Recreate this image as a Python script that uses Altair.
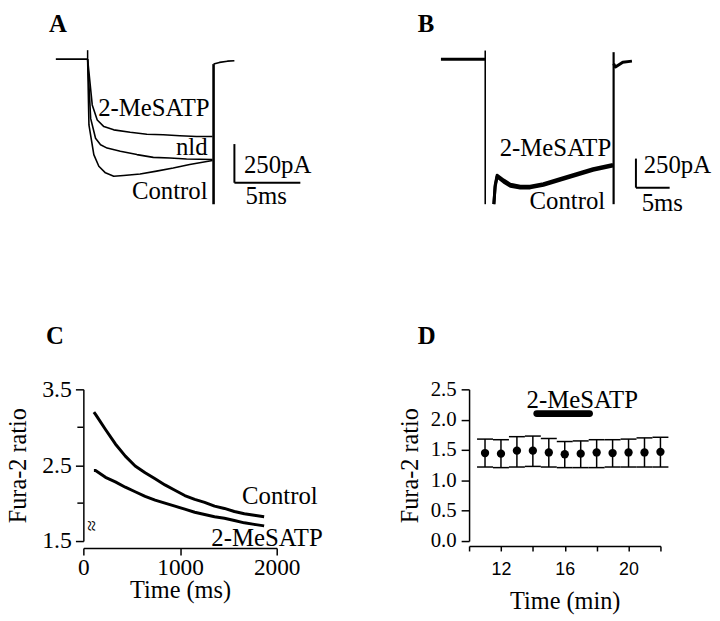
import altair as alt
import pandas as pd

SERIF = "Liberation Serif"
SANS = "Liberation Sans"
LBL = 25  # annotation font size

# ---------------- Panel A : currents (time in ms, current in pA) ----------------
a_base_t = [-2.41, 0.0]
a_base_i = [0, 0]
a_mes_t = [0.0, 0.35, 0.73, 1.23, 1.98, 3.23, 4.49, 5.74, 6.99, 8.25, 9.47]
a_mes_i = [0, -296, -393, -436, -457, -473, -485, -489, -495, -500, -500]
a_nld_t = [0.0, 0.23, 0.60, 0.98, 1.48, 2.48, 3.74, 4.98, 6.24, 7.50, 9.47]
a_nld_i = [0, -383, -511, -553, -575, -596, -617, -635, -639, -645, -649]
a_ctl_t = [0.0, 0.10, 0.47, 0.85, 1.35, 1.98, 2.73, 3.98, 5.23, 6.49, 7.74, 9.47]
a_ctl_i = [0, -425, -617, -692, -735, -757, -752, -742, -724, -704, -681, -655]
a_tail_t = [9.55, 10.0, 10.6, 11.13]
a_tail_i = [-32, -21, -13, -10]
a_step_on = [0.0, 0, 58]        # time, from, to
a_step_off = [9.55, -938, -32]
a_bar_t = [11.13, 16.13]        # 5 ms
a_bar_i = [-549, -799]          # 250 pA
a_labels = ["2-MeSATP", "nld", "Control"]
a_label_t = [9.25, 9.1, 9.1]
a_label_i = [-365, -622, -904]

# ---------------- Panel B ----------------
b_base_t = [-6.57, 0.0]
b_base_i = [0, 0]
b_trace_t = [1.28, 1.47, 1.76, 2.75, 3.72, 5.19, 6.66, 8.63, 11.07, 13.53, 15.99, 18.93]
b_mes_i = [-1247, -1085, -998, -1040, -1075, -1092, -1093, -1070, -1027, -984, -942, -905]
b_ctl_i = [-1247, -1097, -1012, -1058, -1092, -1108, -1107, -1084, -1041, -998, -956, -919]
b_tail_t = [19.04, 19.31, 20.4, 21.76]
b_tail_i = [-40, -68, -26, -17]
b_step_on = [0.0, 74, -1247]
b_step_off = [19.04, 60, -1247]
b_bar_t = [22.35, 27.35]
b_bar_i = [-855, -1105]
b_labels = ["2-MeSATP", "Control"]
b_label_t = [18.68, 17.8]
b_label_i = [-835, -1290]

# ---------------- Panel C : Fura-2 ratio vs time (ms) ----------------
c_time = [109, 126, 229, 331, 434, 536, 639, 742, 844, 947, 1049, 1152, 1254, 1357, 1459, 1562, 1665, 1767, 1870]
c_control = [3.20, 3.17, 2.97, 2.78, 2.62, 2.49, 2.40, 2.32, 2.24, 2.17, 2.10, 2.05, 2.01, 1.96, 1.93, 1.89, 1.86, 1.84, 1.82]
c_mesatp = [2.43, 2.43, 2.34, 2.28, 2.21, 2.15, 2.09, 2.04, 2.00, 1.96, 1.92, 1.88, 1.85, 1.82, 1.80, 1.77, 1.74, 1.72, 1.70]
c_xticks = [0, 1000, 2000]
c_yticks = [1.5, 2.5, 3.5]
c_minor = [2.0, 3.0]

# ---------------- Panel D : Fura-2 ratio vs time (min) ----------------
d_time = [11, 12, 13, 14, 15, 16, 17, 18, 19, 20, 21, 22]
d_mean = [1.45, 1.44, 1.49, 1.49, 1.46, 1.43, 1.44, 1.46, 1.45, 1.46, 1.46, 1.47]
d_upper = [1.68, 1.67, 1.72, 1.73, 1.69, 1.64, 1.65, 1.67, 1.67, 1.68, 1.70, 1.71]
d_lower = [1.22, 1.21, 1.22, 1.23, 1.22, 1.21, 1.21, 1.21, 1.22, 1.22, 1.22, 1.22]
d_xticks = [10, 12, 14, 16, 18, 20, 22]
d_yticks = [0.0, 0.5, 1.0, 1.5, 2.0, 2.5]
d_drug = [14.25, 17.55, 2.10]


def lines_df(series):
    rows = []
    for name, (ts, vs) in series.items():
        for k, (t, v) in enumerate(zip(ts, vs)):
            rows.append({"series": name, "x": t, "y": v, "order": k})
    return pd.DataFrame(rows)


def rules_df(rows):
    return pd.DataFrame(rows, columns=["x", "y", "x2", "y2", "w"])


def text_layer(df, X, Y, align, size=LBL, weight="normal", font=SERIF, baseline="alphabetic", angle=0):
    return alt.Chart(df).mark_text(align=align, baseline=baseline, font=font, fontSize=size,
                                   fontWeight=weight, color="black", angle=angle).encode(
        x=X, y=Y, text="text:N")


def line_layer(df, X, Y, width):
    return alt.Chart(df).mark_line(color="black", strokeWidth=width, strokeJoin="round").encode(
        x=X, y=Y, detail="series:N", order="order:Q")


def rule_layer(df, X, Y, cap="butt"):
    return alt.Chart(df).mark_rule(color="black", strokeCap=cap).encode(
        x=X, y=Y, x2="x2:Q", y2="y2:Q", strokeWidth=alt.StrokeWidth("w:Q", scale=None))


# ---------- A ----------
xA = alt.X("x:Q", scale=alt.Scale(domain=[-0.3233, 14.338], nice=False, zero=False), axis=None)
yA = alt.Y("y:Q", scale=alt.Scale(domain=[-1108.97, 314.10], nice=False, zero=False), axis=None)
dfA_lines = lines_df({"base": (a_base_t, a_base_i), "mes": (a_mes_t, a_mes_i), "nld": (a_nld_t, a_nld_i),
                      "ctl": (a_ctl_t, a_ctl_i), "tail": (a_tail_t, a_tail_i)})
dfA_rules = rules_df([
    [a_step_on[0], a_step_on[1], a_step_on[0], a_step_on[2], 1.5],
    [a_step_off[0], a_step_off[1], a_step_off[0], a_step_off[2], 2.6],
    [a_bar_t[0], a_bar_i[0], a_bar_t[0], a_bar_i[1], 2],
    [a_bar_t[0], a_bar_i[1], a_bar_t[1], a_bar_i[1], 2],
])
dfA_right = pd.DataFrame({"x": a_label_t, "y": a_label_i, "text": a_labels})
dfA_left = pd.DataFrame({"x": [a_bar_t[0] + 0.72, a_bar_t[0] + 0.85], "y": [-735, -938], "text": ["250pA", "5ms"]})
dfA_letter = pd.DataFrame({"x": [-2.93], "y": [173], "text": ["A"]})
panelA = alt.layer(
    line_layer(dfA_lines, xA, yA, 1.6),
    rule_layer(dfA_rules, xA, yA),
    text_layer(dfA_right, xA, yA, "right"),
    text_layer(dfA_left, xA, yA, "left"),
    text_layer(dfA_letter, xA, yA, "left", size=25, weight="bold"),
).properties(width=195, height=222)

# ---------- B ----------
xB = alt.X("x:Q", scale=alt.Scale(domain=[-2.397, 31.574], nice=False, zero=False), axis=None)
yB = alt.Y("y:Q", scale=alt.Scale(domain=[-1474.85, 417.73], nice=False, zero=False), axis=None)
dfB_lines = lines_df({"base": (b_base_t, b_base_i), "mes": (b_trace_t, b_mes_i), "ctl": (b_trace_t, b_ctl_i),
                      "tail": (b_tail_t, b_tail_i)})
dfB_rules = rules_df([
    [b_step_on[0], b_step_on[1], b_step_on[0], b_step_on[2], 1.6],
    [b_step_off[0], b_step_off[1], b_step_off[0], b_step_off[2], 2.2],
    [b_bar_t[0], b_bar_i[0], b_bar_t[0], b_bar_i[1], 2],
    [b_bar_t[0], b_bar_i[1], b_bar_t[1], b_bar_i[1], 2],
])
dfB_right = pd.DataFrame({"x": b_label_t, "y": b_label_i, "text": b_labels})
dfB_left = pd.DataFrame({"x": [b_bar_t[0] + 1.15, b_bar_t[0] + 0.85], "y": [-978, -1304], "text": ["250pA", "5ms"]})
dfB_letter = pd.DataFrame({"x": [-10.0], "y": [230], "text": ["B"]})
panelB = alt.layer(
    line_layer(dfB_lines, xB, yB, 3.0),
    rule_layer(dfB_rules, xB, yB),
    text_layer(dfB_right, xB, yB, "right"),
    text_layer(dfB_left, xB, yB, "left"),
    text_layer(dfB_letter, xB, yB, "left", size=25, weight="bold"),
).properties(width=231, height=222)

axis_style = dict(grid=False, domainColor="black", tickColor="black", labelColor="black", titleColor="black",
                  domainWidth=1.5, tickWidth=1.5, titleFont=SERIF, titleFontWeight="normal",
                  titleFontSize=24.5, labelFlush=False, labelOverlap=False)

# ---------- C ----------
xC = alt.X("x:Q", scale=alt.Scale(domain=[0, 2000], nice=False, zero=False),
           axis=alt.Axis(values=c_xticks, format="d", title="Time (ms)", offset=7, tickSize=7, labelPadding=1,
                         labelFont=SERIF, labelFontSize=23.5, minExtent=26, maxExtent=26, titlePadding=5,
                         **axis_style))
yC = alt.Y("y:Q", scale=alt.Scale(domain=[1.5, 3.5], nice=False, zero=False),
           axis=alt.Axis(values=c_yticks, format=".1f", title="Fura-2 ratio", tickSize=8, labelPadding=4,
                         labelFont=SERIF, labelFontSize=24, minExtent=47, maxExtent=47, titlePadding=6,
                         **axis_style))
dfC_lines = lines_df({"Control": (c_time, c_control), "2-MeSATP": (c_time, c_mesatp)})
dfC_minor = rules_df([[0, v, -62, v, 1.5] for v in c_minor])
dfC_text = pd.DataFrame({"x": [1641, 1323], "y": [1.99, 1.44], "text": ["Control", "2-MeSATP"]})
dfC_break = pd.DataFrame({"x": [76], "y": [1.70], "text": ["≈"]})
dfC_letter = pd.DataFrame({"x": [-387], "y": [4.10], "text": ["C"]})
panelC = alt.layer(
    line_layer(dfC_lines, xC, yC, 3.0),
    rule_layer(dfC_minor, xC, yC),
    text_layer(dfC_text, xC, yC, "left"),
    text_layer(dfC_break, xC, yC, "center", size=20, baseline="middle", angle=90),
    text_layer(dfC_letter, xC, yC, "left", size=25, weight="bold"),
).properties(width=195, height=153)


# ---------- D ----------
def xD(field="x"):
    return alt.X(f"{field}:Q", scale=alt.Scale(domain=[10, 22], nice=False, zero=False),
                 axis=alt.Axis(values=d_xticks, title="Time (min)", offset=5, tickSize=5, labelPadding=10,
                               labelExpr="datum.value % 4 == 0 ? datum.label : ''",
                               labelFont=SANS, labelFontSize=18,
                               minExtent=44, maxExtent=44, titlePadding=0, **axis_style))


def yD(field="y"):
    return alt.Y(f"{field}:Q", scale=alt.Scale(domain=[0, 2.5], nice=False, zero=False),
                 axis=alt.Axis(values=d_yticks, format=".1f", title="Fura-2 ratio", tickSize=8, labelPadding=5,
                               labelFont=SERIF, labelFontSize=21, minExtent=41, maxExtent=41, titlePadding=6,
                               **axis_style))


dfD = pd.DataFrame({"x": d_time, "y": d_mean, "lo": d_lower, "hi": d_upper})
dfD_drug = rules_df([[d_drug[0], d_drug[2], d_drug[1], d_drug[2], 7]])
dfD_text = pd.DataFrame({"x": [17.1], "y": [2.20], "text": ["2-MeSATP"]})
dfD_letter = pd.DataFrame({"x": [6.78], "y": [3.24], "text": ["D"]})
baseD = alt.Chart(dfD)
capsD = baseD.transform_calculate(xa="datum.x - 0.5", xb="datum.x + 0.5")
panelD = alt.layer(
    baseD.mark_rule(color="black", strokeWidth=1.5).encode(x=xD(), y=yD("lo"), y2="hi:Q"),
    capsD.mark_rule(color="black", strokeWidth=1.5).encode(x=xD("xa"), x2="xb:Q", y=yD("hi")),
    capsD.mark_rule(color="black", strokeWidth=1.5).encode(x=xD("xa"), x2="xb:Q", y=yD("lo")),
    baseD.mark_point(filled=True, size=70, color="black", opacity=1).encode(x=xD(), y=yD()),
    rule_layer(dfD_drug, xD(), yD(), cap="round"),
    text_layer(dfD_text, xD(), yD(), "center"),
    text_layer(dfD_letter, xD(), yD(), "left", size=25, weight="bold"),
).properties(width=193, height=153)

chart = alt.concat(
    panelA, panelB, panelC, panelD, columns=2,
    spacing=alt.RowColnumber(row=160, column=194), bounds="flush", align="each",
).properties(padding={"left": -2, "top": 0, "right": 0, "bottom": 0}).configure(
    font=SERIF, background="white").configure_view(stroke=None)

chart.save("out.html", embed_options={"renderer": "svg", "actions": False})
